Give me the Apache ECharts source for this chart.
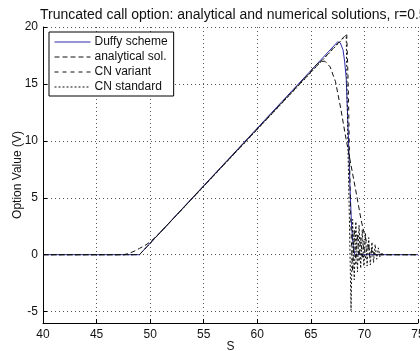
<!DOCTYPE html>
<html>
<head>
<meta charset="utf-8">
<script src="https://cdn.jsdelivr.net/npm/echarts@6/dist/echarts.min.js"></script>
<style>
html,body{margin:0;padding:0;background:#fff;}
#chart{width:420px;height:351px;}
</style>
</head>
<body>
<div id="chart"></div>
<script>
// ---- data ----
var titleText = 'Truncated call option: analytical and numerical solutions, r=0.5';
var seriesNames = ['Duffy scheme', 'analytical sol.', 'CN variant', 'CN standard'];
var xTicks = [40, 45, 50, 55, 60, 65, 70, 75];
var yTicks = [-5, 0, 5, 10, 15, 20];

var duffyS = [40, 49, 67.5, 67.75, 68.0, 68.15, 68.3, 68.4, 68.5, 68.65, 68.8, 68.95, 69.1, 75];
var duffyV = [0, 0, 18.7, 18.6, 18.0, 17.0, 15.5, 13.0, 10.5, 6.0, 2.5, 0.8, 0, 0];

var analyticS = [40, 47.5, 48, 48.5, 49, 49.5, 50, 50.5, 51, 64.8, 65.4, 65.9, 66.3, 66.8, 67.3, 67.8, 68.2, 68.6, 69.2, 69.7, 70.1, 70.5, 71, 71.5, 75];
var analyticV = [0, 0, 0.1, 0.3, 0.55, 0.8, 1.12, 1.55, 2.0, 15.9, 16.6, 16.95, 17.0, 16.5, 15.2, 12.8, 10.6, 8.6, 5.6, 3.0, 1.4, 0.5, 0.1, 0, 0];

var cnVarS = [40, 49, 68.35, 68.5, 68.6, 68.7, 68.8, 68.9, 69.05, 69.2, 69.35, 69.5, 69.65, 69.8, 69.95, 70.1, 70.3, 70.5, 70.7, 70.9, 71.1, 75];
var cnVarV = [0, 0, 19.4, 14.5, 9.0, 4.0, 0.8, -1.5, 2.2, -0.8, 1.8, -0.5, 1.5, -0.4, 1.2, -0.3, 0.9, -0.2, 0.5, 0, 0, 0];

var cnStdS = [40, 49, 68.3, 68.45, 68.6, 68.75, 68.9, 69.05, 69.2, 69.35, 69.5, 69.65, 69.8, 69.95, 70.1, 70.25, 70.4, 70.55, 70.7, 70.85, 71.0, 71.15, 71.3, 71.45, 71.6, 71.8, 75];
var cnStdV = [0, 0, 19.3, 10.0, 3.0, -4.9, 3.1, -2.2, 2.9, -1.5, 2.6, -1.2, 2.2, -1.0, 1.9, -1.0, 1.5, -0.9, 1.1, -0.7, 0.9, -0.4, 0.6, -0.2, 0.2, 0, 0];

function zip(a, b) { return a.map(function (v, i) { return [v, b[i]]; }); }

var font = 'Liberation Sans, Arial, Helvetica, sans-serif';
var chart = echarts.init(document.getElementById('chart'), null, {renderer: 'canvas'});

var gridLine = {show: true, lineStyle: {color: '#555', type: [1, 3], width: 1}};

chart.setOption({
  animation: false,
  backgroundColor: '#fff',
  title: {
    text: titleText, left: 35, top: 3,
    textStyle: {fontFamily: font, fontSize: 14, fontWeight: 'normal', color: '#111'}
  },
  legend: {
    data: seriesNames,
    orient: 'vertical', left: 49, top: 32,
    backgroundColor: '#fff', borderColor: '#000', borderWidth: 1, borderRadius: 0,
    padding: [4, 6, 3, 5], itemGap: 3, itemWidth: 36, itemHeight: 10,
    itemStyle: {opacity: 0},
    lineStyle: {width: 1},
    textStyle: {fontFamily: font, fontSize: 12, color: '#111', padding: [0, 0, 0, -1]},
    selectedMode: false
  },
  grid: {left: 43, right: 2, top: 27, bottom: 28, containLabel: false, outerBoundsMode: 'none'},
  xAxis: {
    type: 'value', min: 40, max: 75, interval: 5,
    name: 'S', nameLocation: 'middle', nameGap: 18, nameMoveOverlap: false,
    nameTextStyle: {fontFamily: font, fontSize: 12, color: '#111'},
    axisLine: {show: true, onZero: false, lineStyle: {color: '#000', width: 1}},
    axisTick: {show: true, inside: true, length: 4, lineStyle: {color: '#000'}},
    axisLabel: {fontFamily: font, fontSize: 12, color: '#111', margin: 6, hideOverlap: false,
      formatter: function (v) { return xTicks.indexOf(v) >= 0 ? String(v) : ''; }},
    splitLine: gridLine
  },
  yAxis: {
    type: 'value', min: -6, max: 20, splitNumber: 5,
    name: 'Option Value (V)', nameLocation: 'middle', nameGap: 19, nameMoveOverlap: false,
    nameTextStyle: {fontFamily: font, fontSize: 12, color: '#111'},
    axisLine: {show: true, onZero: false, lineStyle: {color: '#000', width: 1}},
    axisTick: {show: true, inside: true, length: 4, lineStyle: {color: '#000'}},
    axisLabel: {fontFamily: font, fontSize: 12, color: '#111', margin: 5,
      formatter: function (v) { return yTicks.indexOf(v) >= 0 ? String(v) : ''; }},
    splitLine: gridLine
  },
  series: [
    {name: seriesNames[0], type: 'line', data: zip(duffyS, duffyV), symbol: 'none', z: 2,
     lineStyle: {color: '#2a2aa8', width: 1, type: 'solid'}, itemStyle: {color: '#2a2aa8'}},
    {name: seriesNames[3], type: 'line', data: zip(cnStdS, cnStdV), symbol: 'none', z: 3,
     lineStyle: {color: '#111', width: 1, type: [2, 2]}, itemStyle: {color: '#111'}},
    {name: seriesNames[2], type: 'line', data: zip(cnVarS, cnVarV), symbol: 'none', z: 4,
     lineStyle: {color: '#111', width: 1, type: [4, 4]}, itemStyle: {color: '#111'}},
    {name: seriesNames[1], type: 'line', data: zip(analyticS, analyticV), symbol: 'none', z: 5,
     lineStyle: {color: '#111', width: 1, type: [5, 3]}, itemStyle: {color: '#111'}}
  ]
});
</script>
</body>
</html>
